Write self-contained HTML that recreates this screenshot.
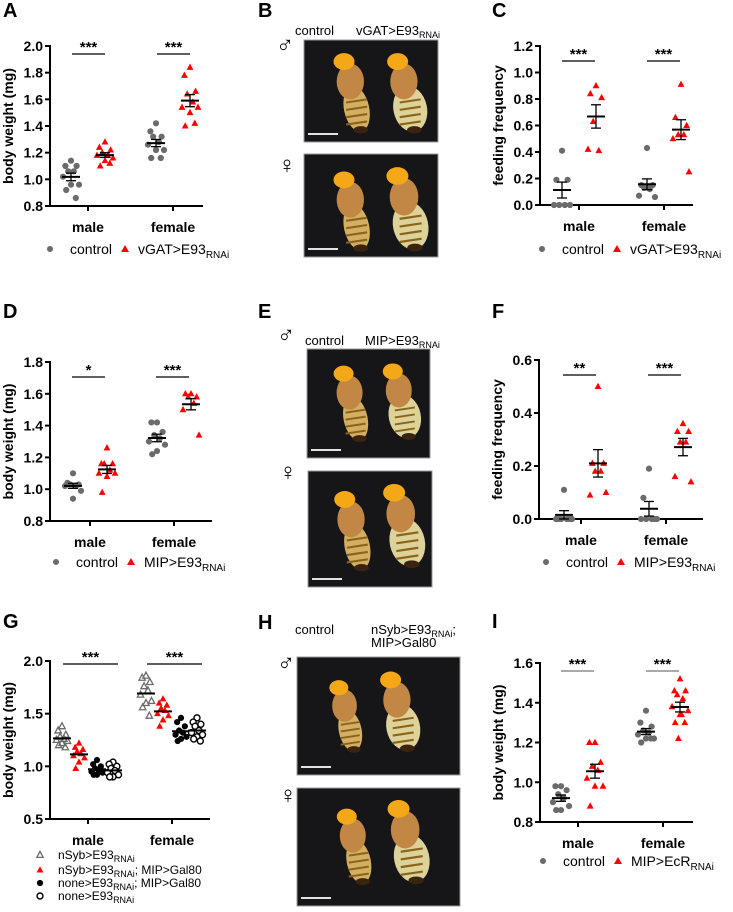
<!DOCTYPE html>
<html><head><meta charset="utf-8">
<style>
html,body{margin:0;padding:0;background:#fff;}
svg{display:block;font-family:"Liberation Sans",Arial,sans-serif;}
</style></head>
<body>
<svg id="fig" width="733" height="912" viewBox="0 0 733 912" xmlns="http://www.w3.org/2000/svg"></svg>
<script>
// ---------- DATA ----------
const cats = ['male','female'];
// Panel A
const aTicks = [0.8,1.0,1.2,1.4,1.6,1.8,2.0];
const aControl = [[1.14,1.10,1.10,1.06,1.06,1.02,0.96,0.96,0.92,0.86],[1.42,1.36,1.32,1.32,1.28,1.26,1.22,1.22,1.16,1.16]];
const aTreat = [[1.28,1.24,1.22,1.20,1.18,1.18,1.16,1.14,1.10,1.12],[1.84,1.78,1.66,1.64,1.58,1.54,1.54,1.50,1.40,1.42]];
const aSig = ['***','***'];
// Panel C
const cTicks = [0.0,0.2,0.4,0.6,0.8,1.0,1.2];
const cControl = [[0.41,0.19,0.19,0.0,0.0,0.0,0.0],[0.43,0.15,0.15,0.13,0.12,0.07,0.06,0.14]];
const cTreat = [[0.90,0.84,0.81,0.63,0.41,0.42],[0.91,0.66,0.60,0.53,0.53,0.50,0.25]];
const cSig = ['***','***'];
// Panel D
const dTicks = [0.8,1.0,1.2,1.4,1.6,1.8];
const dControl = [[1.10,1.04,1.03,1.03,1.02,1.02,0.99,0.94],[1.42,1.42,1.36,1.34,1.32,1.30,1.28,1.24,1.22]];
const dTreat = [[1.26,1.16,1.16,1.16,1.12,1.10,1.10,1.08,0.98],[1.60,1.60,1.58,1.58,1.54,1.50,1.34]];
const dSig = ['*','***'];
// Panel F
const fTicks = [0.0,0.2,0.4,0.6];
const fControl = [[0.11,0.0,0.0,0.0,0.0,0.0,0.0],[0.19,0.08,0.0,0.0,0.0,0.0,0.0]];
const fTreat = [[0.50,0.21,0.21,0.18,0.18,0.09,0.10],[0.36,0.33,0.33,0.29,0.29,0.16,0.14]];
const fSig = ['**','***'];
// Panel G
const gTicks = [0.5,1.0,1.5,2.0];
const gNsyb = [[1.38,1.34,1.30,1.28,1.26,1.25,1.24,1.22,1.20,1.18],[1.86,1.84,1.80,1.76,1.72,1.68,1.62,1.60,1.56,1.48]];
const gNsybGal80 = [[1.22,1.18,1.16,1.14,1.12,1.10,1.08,1.04,0.98],[1.64,1.60,1.58,1.55,1.53,1.50,1.48,1.44,1.38]];
const gNoneGal80 = [[1.06,1.02,1.00,0.98,0.96,0.95,0.94,0.92,0.92],[1.46,1.42,1.38,1.34,1.32,1.30,1.28,1.26,1.24]];
const gNone = [[1.04,1.02,1.00,0.98,0.96,0.94,0.92,0.90,0.90],[1.46,1.42,1.40,1.38,1.34,1.32,1.30,1.28,1.26,1.24]];
const gSig = ['***','***'];
// Panel I
const iTicks = [0.8,1.0,1.2,1.4,1.6];
const iControl = [[0.98,0.98,0.96,0.94,0.92,0.90,0.88,0.86,0.86],[1.36,1.30,1.28,1.26,1.25,1.24,1.22,1.22,1.20,1.22]];
const iTreat = [[1.20,1.20,1.10,1.08,1.06,1.02,0.98,0.98,0.88],[1.52,1.46,1.46,1.44,1.42,1.38,1.36,1.34,1.30,1.30,1.22,1.34]];
const iSig = ['***','***'];

// ---------- HELPERS ----------
const NS='http://www.w3.org/2000/svg';
const svg=document.getElementById('fig');
function el(tag,attrs,parent,text){
  const e=document.createElementNS(NS,tag);
  for(const k in attrs) e.setAttribute(k,attrs[k]);
  if(text!==undefined) e.textContent=text;
  (parent||svg).appendChild(e);
  return e;
}
const GRAY='#6b6b6b', RED='#ff0000';
const jit=[0,-7,7,-3.5,3.5,-10,10,0,-6,6,-2,2];
function mean(a){return a.reduce((s,v)=>s+v,0)/a.length;}
function sem(a){const m=mean(a);const sd=Math.sqrt(a.reduce((s,v)=>s+(v-m)*(v-m),0)/(a.length-1));return sd/Math.sqrt(a.length);}

function marker(g,type,x,y,color){
  let m;
  if(type==='dot'){m=el('circle',{cx:x,cy:y,r:3.1,fill:color},g);}
  else if(type==='tri'){m=el('path',{d:`M${x},${y-3.8}L${x+3.4},${y+2.5}L${x-3.4},${y+2.5}Z`,fill:color},g);}
  else if(type==='otri'){m=el('path',{d:`M${x},${y-3.6}L${x+3.2},${y+2.4}L${x-3.2},${y+2.4}Z`,fill:'none',stroke:color,'stroke-width':1.3},g);}
  else if(type==='open'){m=el('circle',{cx:x,cy:y,r:3.0,fill:'#fff',stroke:color,'stroke-width':1.4},g);}
  return m;
}

function panelLabel(t,x,y){
  const e=el('text',{x:x,y:y,'font-size':20,'font-weight':'bold',fill:'#000'},svg,t);
  
  
}

function chart(c){
  const g=el('g',{});
  
  
  const y=v=>c.yBot-(v-c.vmin)/(c.vmax-c.vmin)*(c.yBot-c.yTop);
  const ya=el('line',{x1:c.x0,y1:c.yTop-1,x2:c.x0,y2:c.yBot+1,stroke:'#000','stroke-width':2},g);
  
  
  const xa=el('line',{x1:c.x0-1,y1:c.yBot,x2:c.xEnd,y2:c.yBot,stroke:'#000','stroke-width':2},g);
  
  
  c.ticks.forEach(t=>{
    el('line',{x1:c.x0-5,y1:y(t),x2:c.x0,y2:y(t),stroke:'#000','stroke-width':2},g);
    const tl=el('text',{x:c.x0-7,y:y(t)+5,'text-anchor':'end','font-size':14,'font-weight':'bold'},g,t.toFixed(1));
    
    
  });
  const yt=el('text',{x:0,y:0,'text-anchor':'middle','font-size':14,'font-weight':'bold',transform:`translate(${c.x0-37},${(c.yTop+c.yBot)/2}) rotate(-90)`},g,c.ylabel);
  
  
  cats.forEach((cat,ci)=>{
    const cx=c.catX[ci];
    el('line',{x1:cx,y1:c.yBot,x2:cx,y2:c.yBot+5,stroke:'#000','stroke-width':2},g);
    const cl=el('text',{x:cx,y:c.yBot+26,'text-anchor':'middle','font-size':14,'font-weight':'bold'},g,cat);
    
    
    c.series.forEach((s,si)=>{
      const gx=cx+c.offsets[si];
      const vals=s.data[ci];
      vals.forEach((v,k)=>{
        const m=marker(g,s.type,gx+jit[k%jit.length]*c.spread,y(v),s.color);
        
        
      });
      const mu=mean(vals), se=sem(vals);
      const ml=el('line',{x1:gx-9,y1:y(mu),x2:gx+9,y2:y(mu),stroke:'#000','stroke-width':2},g);
      
      
      if(c.err){
        el('line',{x1:gx,y1:y(mu+se),x2:gx,y2:y(mu-se),stroke:'#000','stroke-width':1.3},g);
        el('line',{x1:gx-5,y1:y(mu+se),x2:gx+5,y2:y(mu+se),stroke:'#000','stroke-width':1.3},g);
        el('line',{x1:gx-5,y1:y(mu-se),x2:gx+5,y2:y(mu-se),stroke:'#000','stroke-width':1.3},g);
      }
    });
    const sl=el('line',{x1:cx+c.sigX[0],y1:c.sigY,x2:cx+c.sigX[1],y2:c.sigY,stroke:c.sigColor||'#000','stroke-width':1.2},g);
    
    
    const st=el('text',{x:cx+(c.sigX[0]+c.sigX[1])/2,y:c.sigY-2,'text-anchor':'middle','font-size':15,'font-weight':'bold'},g,c.sig[ci]);
    
    
  });
  return {g,y};
}

function legend2(x,yy,label){
  const g=el('g',{});
  
  
  el('circle',{cx:x,cy:yy-4,r:3,fill:GRAY},g);
  const t1=el('text',{x:x+20,y:yy+1,'font-size':14},g,'control');
  
  
  el('path',{d:`M${x+75},${yy-8}L${x+79},${yy-1}L${x+71},${yy-1}Z`,fill:RED},g);
  const t2=el('text',{x:x+88,y:yy+1,'font-size':14},g);
  
  
  t2.appendChild(document.createTextNode(label));
  el('tspan',{'font-size':10,dy:4},t2,'RNAi');
}

// ---------- CHARTS ----------
panelLabel('A',3,17);
chart({name:'chart-a',x0:50,yTop:46,yBot:206,vmin:0.8,vmax:2.0,ticks:aTicks,xEnd:203,catX:[88,173],offsets:[-17,17],spread:0.8,err:true,
  ylabel:'body weight (mg)',sig:aSig,sigX:[-16,17],sigY:54,
  series:[{key:'control',type:'dot',color:GRAY,data:aControl},{key:'treatment',type:'tri',color:RED,data:aTreat}]});
legend2(50,253,'vGAT>E93');

panelLabel('C',492,17);
chart({name:'chart-c',x0:540,yTop:46,yBot:205,vmin:0,vmax:1.2,ticks:cTicks,xEnd:693,catX:[579,664],offsets:[-17,17],spread:0.8,err:true,
  ylabel:'feeding frequency',sig:cSig,sigX:[-17,16],sigY:61,
  series:[{key:'control',type:'dot',color:GRAY,data:cControl},{key:'treatment',type:'tri',color:RED,data:cTreat}]});
legend2(542,253,'vGAT>E93');

panelLabel('D',3,318);
chart({name:'chart-d',x0:50,yTop:362,yBot:521,vmin:0.8,vmax:1.8,ticks:dTicks,xEnd:212,catX:[90,174],offsets:[-17,17],spread:0.8,err:true,
  ylabel:'body weight (mg)',sig:dSig,sigX:[-18,15],sigY:377,
  series:[{key:'control',type:'dot',color:GRAY,data:dControl},{key:'treatment',type:'tri',color:RED,data:dTreat}]});
legend2(56,566,'MIP>E93');

panelLabel('F',492,318);
chart({name:'chart-f',x0:539,yTop:360,yBot:519,vmin:0,vmax:0.6,ticks:fTicks,xEnd:703,catX:[581,666],offsets:[-17,17],spread:0.8,err:true,
  ylabel:'feeding frequency',sig:fSig,sigX:[-18,15],sigY:375,
  series:[{key:'control',type:'dot',color:GRAY,data:fControl},{key:'treatment',type:'tri',color:RED,data:fTreat}]});
legend2(546,566,'MIP>E93');

panelLabel('G',3,628);
chart({name:'chart-g',x0:50,yTop:661,yBot:819,vmin:0.5,vmax:2.0,ticks:gTicks,xEnd:210,catX:[88,172],offsets:[-26,-9,9,25],spread:0.55,err:false,
  ylabel:'body weight (mg)',sig:gSig,sigX:[-25,30],sigY:664,
  series:[{key:'nsyb',type:'otri',color:GRAY,data:gNsyb},{key:'nsyb-gal80',type:'tri',color:RED,data:gNsybGal80},
          {key:'none-gal80',type:'dot',color:'#000',data:gNoneGal80},{key:'none',type:'open',color:'#000',data:gNone}]});
(function(){
  const g=el('g',{});
  
  
  const rows=[['otri',GRAY,'nSyb>E93','',859],['tri',RED,'nSyb>E93','; MIP>Gal80',874],['dot','#000','none>E93','; MIP>Gal80',887],['open','#000','none>E93','',900]];
  rows.forEach(r=>{
    marker(g,r[0],40,r[4]-4,r[1]);
    const t=el('text',{x:58,y:r[4],'font-size':12},g);
    
    
    t.appendChild(document.createTextNode(r[2]));
    el('tspan',{'font-size':9,dy:3},t,'RNAi');
    if(r[3]) el('tspan',{dy:-3},t,r[3]);
  });
})();

panelLabel('I',492,628);
chart({name:'chart-i',x0:540,yTop:663,yBot:822,vmin:0.8,vmax:1.6,ticks:iTicks,xEnd:693,catX:[578,663],offsets:[-17,17],spread:0.8,err:true,
  ylabel:'body weight (mg)',sig:iSig,sigX:[-17,16],sigY:671,sigColor:'#777',
  series:[{key:'control',type:'dot',color:GRAY,data:iControl},{key:'treatment',type:'tri',color:RED,data:iTreat}]});
legend2(543,865,'MIP>EcR');

// ---------- PHOTOS ----------
function fly(g,x,y,s,fat){
  const ab=fat?16:12;
  el('ellipse',{cx:x+8*s,cy:y+50*s,rx:ab*s,ry:22*s,fill:fat?'#ddd29a':'#d4ae62',transform:`rotate(-12 ${x+8*s} ${y+50*s})`},g);
  for(let k=0;k<4;k++) el('line',{x1:x+(-2)*s,y1:y+(44+k*7)*s,x2:x+(18)*s,y2:y+(41+k*7)*s,stroke:'#8a6418','stroke-width':2*s},g);
  el('ellipse',{cx:x+12*s,cy:y+70*s,rx:7*s,ry:3.5*s,fill:'#3a2410'},g);
  el('ellipse',{cx:x+2*s,cy:y+24*s,rx:13*s,ry:17*s,fill:'#c28744'},g);
  el('ellipse',{cx:x-4*s,cy:y+5*s,rx:10*s,ry:8*s,fill:'#f5a817'},g);
}
function photo(name,x,y,w,h,flies){
  const g=el('g',{});
  
  
  el('rect',{x:x,y:y,width:w,height:h,fill:'#161618',stroke:'#9a9a9a','stroke-width':1},g);
  flies.forEach(f=>fly(g,x+f[0]*w,y+f[1]*h,f[2],f[3]));
  el('line',{x1:x+4,y1:y+h-8,x2:x+34,y2:y+h-8,stroke:'#fff','stroke-width':1.8},g);
}
function txt(name,x,y,s,size,sub,after){
  const t=el('text',{x:x,y:y,'font-size':size});
  
  
  t.appendChild(document.createTextNode(s));
  if(sub) el('tspan',{'font-size':9,dy:3},t,sub);
  if(after) el('tspan',{dy:-3},t,after);
}
// B
panelLabel('B',258,17);
txt('header-control',295,35,'control',13);
txt('header-treatment',356,35,'vGAT>E93',13,'RNAi');
txt('male-symbol',276,53,'♂',24);
txt('female-symbol',278,173,'♀',24);
photo('photo-b-male',304,40,134,102,[[0.33,0.16,1.05,false],[0.73,0.16,1.05,true]]);
photo('photo-b-female',304,154,134,103,[[0.33,0.2,1.05,false],[0.73,0.16,1.1,true]]);
// E
panelLabel('E',258,318);
txt('male-symbol',277,343,'♂',24);
txt('header-control',305,345,'control',13);
txt('header-treatment',365,345,'MIP>E93',13,'RNAi');
txt('female-symbol',279,480,'♀',24);
photo('photo-e-male',307,349,123,109,[[0.33,0.18,1.0,false],[0.73,0.16,1.0,true]]);
photo('photo-e-female',308,471,124,116,[[0.33,0.2,1.05,false],[0.73,0.14,1.1,true]]);
// H
panelLabel('H',258,629);
txt('header-control',295,634,'control',13);
txt('header-treatment',371,634,'nSyb>E93',13,'RNAi',';');
txt('header-treatment-line2',371,647,'MIP>Gal80',13);
txt('male-symbol',277,671,'♂',24);
txt('female-symbol',279,803,'♀',24);
photo('photo-h-male',297,657,163,118,[[0.28,0.22,0.95,false],[0.6,0.15,1.05,true]]);
photo('photo-h-female',297,788,163,118,[[0.33,0.2,1.0,false],[0.65,0.13,1.1,true]]);
</script>
</body></html>
